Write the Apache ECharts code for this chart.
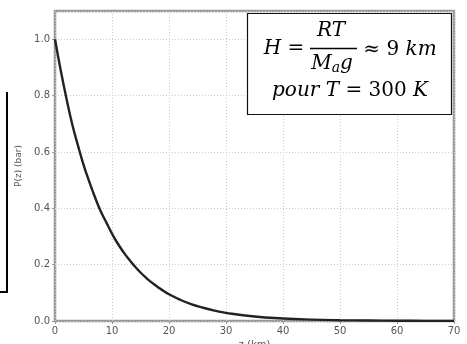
<!DOCTYPE html>
<html>
<head>
<meta charset="utf-8">
<script src="https://cdn.jsdelivr.net/npm/echarts@6/dist/echarts.min.js"></script>
<style>html,body{margin:0;padding:0;background:#fff}#c{width:467px;height:344px}</style>
</head>
<body>
<div id="c"></div>
<script>
var altitudes = [0,1,2,3,4,5,6,7,8,9,10,11,12,13,14,15,16,17,18,19,20,22,24,26,28,30,35,40,45,50,55,60,65,70];
var pressures = [1.00,0.89,0.79,0.70,0.625,0.555,0.495,0.44,0.39,0.35,0.31,0.275,0.245,0.218,0.194,0.172,0.153,0.136,0.121,0.107,0.095,0.075,0.059,0.047,0.037,0.029,0.016,0.009,0.005,0.0028,0.0016,0.0009,0.0005,0.0003];
var xTicks = [0,10,20,30,40,50,60,70];
var yTicks = [0.0,0.2,0.4,0.6,0.8,1.0];
var xLabel = 'z (km)';
var yLabel = 'P(z) (bar)';

var chart = echarts.init(document.getElementById('c'), null, {renderer:'canvas'});
var labelStyle = {color:'#555', fontFamily:'DejaVu Sans', fontSize:10};
var pts = altitudes.map(function(z,i){return [z, pressures[i]];});
var serifI = 'italic 20px "DejaVu Serif"';
var serif = '20px "DejaVu Serif"';
chart.setOption({
  animation:false,
  grid:{left:55, right:13, top:11, bottom:23, outerBoundsMode:'none', containLabel:false, show:true, borderColor:'#999', borderWidth:2.5, backgroundColor:'#fff'},
  xAxis:{type:'value', min:0, max:70, interval:10,
    name:xLabel, nameLocation:'middle', nameGap:17, nameTextStyle:{color:'#555', fontFamily:'DejaVu Sans', fontSize:10},
    axisLine:{show:false}, axisTick:{show:true, inside:false, length:3, lineStyle:{color:'#999'}},
    axisLabel:Object.assign({margin:5, formatter:function(v){return xTicks.indexOf(v)>=0?String(v):'';}}, labelStyle),
    splitLine:{show:true, lineStyle:{color:'#ccc', type:[1,2], width:1}}},
  yAxis:{type:'value', min:0, max:1.1, interval:0.2,
    name:yLabel, nameLocation:'middle', nameGap:25, nameTextStyle:{color:'#555', fontFamily:'DejaVu Sans', fontSize:9},
    axisLine:{show:false}, axisTick:{show:true, inside:false, length:3, lineStyle:{color:'#999'}},
    axisLabel:Object.assign({margin:5, showMaxLabel:false, formatter:function(v){
      for (var i=0;i<yTicks.length;i++){ if (Math.abs(yTicks[i]-v)<1e-6) return yTicks[i].toFixed(1);} return '';}}, labelStyle),
    splitLine:{show:true, lineStyle:{color:'#ccc', type:[1,2], width:1}}},
  series:[{type:'line', data:pts, smooth:true, showSymbol:false, symbol:'none',
    lineStyle:{color:'#222', width:2.4}, z:3}],
  graphic:[
    {type:'rect', shape:{x:247.5, y:13.5, width:204, height:101}, style:{fill:'#fff', stroke:'#111', lineWidth:1.2}, z:10},
    {type:'text', x:284, y:49, style:{text:'{i|H }{u|=}', rich:{i:{font:serifI, fill:'#000'}, u:{font:serif, fill:'#000'}}, textAlign:'center', textVerticalAlign:'middle'}, z:11},
    {type:'text', x:331, y:31, style:{text:'RT', font:serifI, fill:'#000', textAlign:'center', textVerticalAlign:'middle'}, z:11},
    {type:'line', shape:{x1:310, y1:48.5, x2:357, y2:48.5}, style:{stroke:'#000', lineWidth:1.4}, z:11},
    {type:'text', x:332, y:64, style:{rich:{m:{font:serifI, fill:'#000'}, s:{font:'italic 14px "DejaVu Serif"', fill:'#000', padding:[9,0,0,0]}}, text:'{m|M}{s|a}{m|g}', textAlign:'center', textVerticalAlign:'middle'}, z:11},
    {type:'text', x:400, y:50, style:{text:'{u|\u2248 9 }{i|km}', rich:{i:{font:serifI, fill:'#000'}, u:{font:serif, fill:'#000'}}, textAlign:'center', textVerticalAlign:'middle'}, z:11},
    {type:'text', x:350, y:91, style:{text:'{i|pour T }{u|= 300 }{i|K}', rich:{i:{font:serifI, fill:'#000'}, u:{font:serif, fill:'#000'}}, textAlign:'center', textVerticalAlign:'middle'}, z:11},
    {type:'polyline', shape:{points:[[7,92],[7,292],[0,292]]}, style:{stroke:'#000', lineWidth:2, fill:null}, z:11}
  ]
});
</script>
</body>
</html>
